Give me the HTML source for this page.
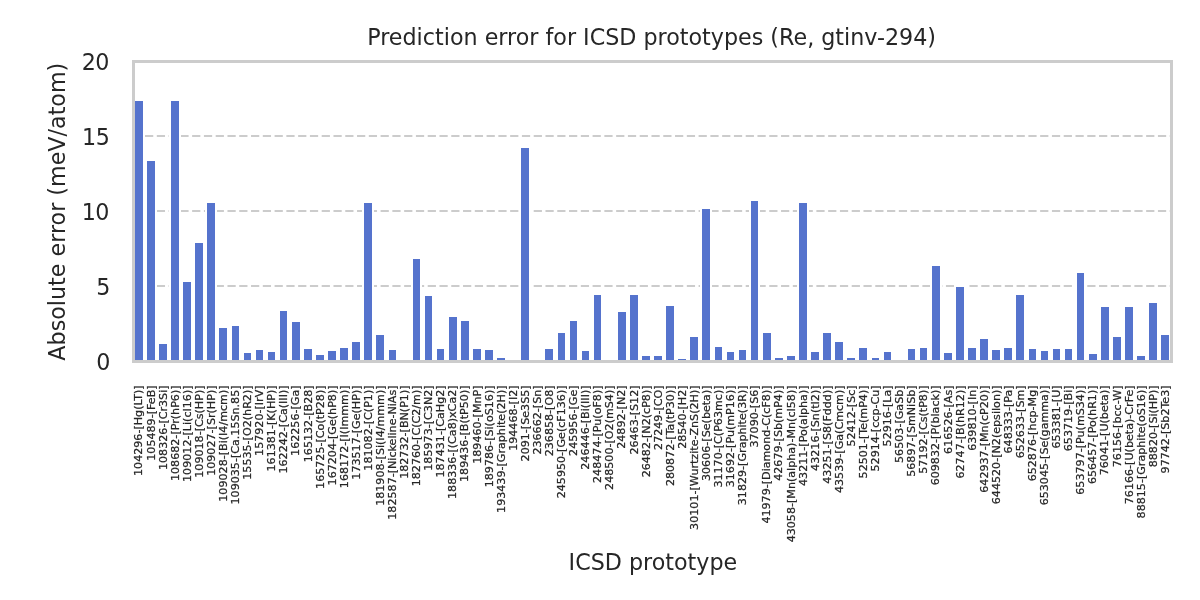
<!DOCTYPE html>
<html><head><meta charset="utf-8"><title>Prediction error for ICSD prototypes</title>
<style>
html,body{margin:0;padding:0;background:#fff;}
body{width:1200px;height:600px;overflow:hidden;}
svg{display:block;}
text{font-family:"DejaVu Sans","Liberation Sans",sans-serif;fill:#262626;}
</style></head><body>
<svg width="1200" height="600" viewBox="0 0 1200 600">
<rect x="0" y="0" width="1200" height="600" fill="#ffffff"/>

<g stroke="#cccccc" stroke-width="2" stroke-dasharray="8.222 3.556" fill="none">
<line x1="133.25" y1="286.0" x2="1171.5" y2="286.0"/>
<line x1="133.25" y1="211.0" x2="1171.5" y2="211.0"/>
<line x1="133.25" y1="136.0" x2="1171.5" y2="136.0"/>
</g>
<g fill="#ffffff" shape-rendering="crispEdges">
<rect x="133" y="99" width="12" height="262.5"/>
<rect x="145" y="159" width="12" height="202.5"/>
<rect x="157" y="342" width="12" height="19.5"/>
<rect x="169" y="99" width="12" height="262.5"/>
<rect x="181" y="280" width="12" height="81.5"/>
<rect x="193" y="241" width="12" height="120.5"/>
<rect x="205" y="201" width="12" height="160.5"/>
<rect x="217" y="326" width="12" height="35.5"/>
<rect x="230" y="324" width="11" height="37.5"/>
<rect x="242" y="351" width="11" height="10.5"/>
<rect x="254" y="348" width="11" height="13.5"/>
<rect x="266" y="350" width="11" height="11.5"/>
<rect x="278" y="309" width="11" height="52.5"/>
<rect x="290" y="320" width="12" height="41.5"/>
<rect x="302" y="347" width="12" height="14.5"/>
<rect x="314" y="353" width="12" height="8.5"/>
<rect x="326" y="349" width="12" height="12.5"/>
<rect x="338" y="346" width="12" height="15.5"/>
<rect x="350" y="340" width="12" height="21.5"/>
<rect x="362" y="201" width="12" height="160.5"/>
<rect x="374" y="333" width="12" height="28.5"/>
<rect x="387" y="348" width="11" height="13.5"/>
<rect x="411" y="257" width="11" height="104.5"/>
<rect x="423" y="294" width="11" height="67.5"/>
<rect x="435" y="347" width="11" height="14.5"/>
<rect x="447" y="315" width="12" height="46.5"/>
<rect x="459" y="319" width="12" height="42.5"/>
<rect x="471" y="347" width="12" height="14.5"/>
<rect x="483" y="348" width="12" height="13.5"/>
<rect x="495" y="356" width="12" height="5.5"/>
<rect x="519" y="146" width="12" height="215.5"/>
<rect x="543" y="347" width="12" height="14.5"/>
<rect x="556" y="331" width="11" height="30.5"/>
<rect x="568" y="319" width="11" height="42.5"/>
<rect x="580" y="349" width="11" height="12.5"/>
<rect x="592" y="293" width="11" height="68.5"/>
<rect x="616" y="310" width="12" height="51.5"/>
<rect x="628" y="293" width="12" height="68.5"/>
<rect x="640" y="354" width="12" height="7.5"/>
<rect x="652" y="354" width="12" height="7.5"/>
<rect x="664" y="304" width="12" height="57.5"/>
<rect x="676" y="357" width="12" height="4.5"/>
<rect x="688" y="335" width="12" height="26.5"/>
<rect x="700" y="207" width="12" height="154.5"/>
<rect x="713" y="345" width="11" height="16.5"/>
<rect x="725" y="350" width="11" height="11.5"/>
<rect x="737" y="348" width="11" height="13.5"/>
<rect x="749" y="199" width="11" height="162.5"/>
<rect x="761" y="331" width="12" height="30.5"/>
<rect x="773" y="356" width="12" height="5.5"/>
<rect x="785" y="354" width="12" height="7.5"/>
<rect x="797" y="201" width="12" height="160.5"/>
<rect x="809" y="350" width="12" height="11.5"/>
<rect x="821" y="331" width="12" height="30.5"/>
<rect x="833" y="340" width="12" height="21.5"/>
<rect x="845" y="356" width="12" height="5.5"/>
<rect x="857" y="346" width="12" height="15.5"/>
<rect x="870" y="356" width="11" height="5.5"/>
<rect x="882" y="350" width="11" height="11.5"/>
<rect x="906" y="347" width="11" height="14.5"/>
<rect x="918" y="346" width="11" height="15.5"/>
<rect x="930" y="264" width="12" height="97.5"/>
<rect x="942" y="351" width="12" height="10.5"/>
<rect x="954" y="285" width="12" height="76.5"/>
<rect x="966" y="346" width="12" height="15.5"/>
<rect x="978" y="337" width="12" height="24.5"/>
<rect x="990" y="348" width="12" height="13.5"/>
<rect x="1002" y="346" width="12" height="15.5"/>
<rect x="1014" y="293" width="12" height="68.5"/>
<rect x="1027" y="347" width="11" height="14.5"/>
<rect x="1039" y="349" width="11" height="12.5"/>
<rect x="1051" y="347" width="11" height="14.5"/>
<rect x="1063" y="347" width="11" height="14.5"/>
<rect x="1075" y="271" width="11" height="90.5"/>
<rect x="1087" y="352" width="12" height="9.5"/>
<rect x="1099" y="305" width="12" height="56.5"/>
<rect x="1111" y="335" width="12" height="26.5"/>
<rect x="1123" y="305" width="12" height="56.5"/>
<rect x="1135" y="354" width="12" height="7.5"/>
<rect x="1147" y="301" width="12" height="60.5"/>
<rect x="1159" y="333" width="12" height="28.5"/>
</g><g fill="#5573cd" shape-rendering="crispEdges">
<rect x="135" y="101" width="8" height="260.5"/>
<rect x="147" y="161" width="8" height="200.5"/>
<rect x="159" y="344" width="8" height="17.5"/>
<rect x="171" y="101" width="8" height="260.5"/>
<rect x="183" y="282" width="8" height="79.5"/>
<rect x="195" y="243" width="8" height="118.5"/>
<rect x="207" y="203" width="8" height="158.5"/>
<rect x="219" y="328" width="8" height="33.5"/>
<rect x="232" y="326" width="7" height="35.5"/>
<rect x="244" y="353" width="7" height="8.5"/>
<rect x="256" y="350" width="7" height="11.5"/>
<rect x="268" y="352" width="7" height="9.5"/>
<rect x="280" y="311" width="7" height="50.5"/>
<rect x="292" y="322" width="8" height="39.5"/>
<rect x="304" y="349" width="8" height="12.5"/>
<rect x="316" y="355" width="8" height="6.5"/>
<rect x="328" y="351" width="8" height="10.5"/>
<rect x="340" y="348" width="8" height="13.5"/>
<rect x="352" y="342" width="8" height="19.5"/>
<rect x="364" y="203" width="8" height="158.5"/>
<rect x="376" y="335" width="8" height="26.5"/>
<rect x="389" y="350" width="7" height="11.5"/>
<rect x="413" y="259" width="7" height="102.5"/>
<rect x="425" y="296" width="7" height="65.5"/>
<rect x="437" y="349" width="7" height="12.5"/>
<rect x="449" y="317" width="8" height="44.5"/>
<rect x="461" y="321" width="8" height="40.5"/>
<rect x="473" y="349" width="8" height="12.5"/>
<rect x="485" y="350" width="8" height="11.5"/>
<rect x="497" y="358" width="8" height="3.5"/>
<rect x="521" y="148" width="8" height="213.5"/>
<rect x="545" y="349" width="8" height="12.5"/>
<rect x="558" y="333" width="7" height="28.5"/>
<rect x="570" y="321" width="7" height="40.5"/>
<rect x="582" y="351" width="7" height="10.5"/>
<rect x="594" y="295" width="7" height="66.5"/>
<rect x="618" y="312" width="8" height="49.5"/>
<rect x="630" y="295" width="8" height="66.5"/>
<rect x="642" y="356" width="8" height="5.5"/>
<rect x="654" y="356" width="8" height="5.5"/>
<rect x="666" y="306" width="8" height="55.5"/>
<rect x="678" y="359" width="8" height="2.5"/>
<rect x="690" y="337" width="8" height="24.5"/>
<rect x="702" y="209" width="8" height="152.5"/>
<rect x="715" y="347" width="7" height="14.5"/>
<rect x="727" y="352" width="7" height="9.5"/>
<rect x="739" y="350" width="7" height="11.5"/>
<rect x="751" y="201" width="7" height="160.5"/>
<rect x="763" y="333" width="8" height="28.5"/>
<rect x="775" y="358" width="8" height="3.5"/>
<rect x="787" y="356" width="8" height="5.5"/>
<rect x="799" y="203" width="8" height="158.5"/>
<rect x="811" y="352" width="8" height="9.5"/>
<rect x="823" y="333" width="8" height="28.5"/>
<rect x="835" y="342" width="8" height="19.5"/>
<rect x="847" y="358" width="8" height="3.5"/>
<rect x="859" y="348" width="8" height="13.5"/>
<rect x="872" y="358" width="7" height="3.5"/>
<rect x="884" y="352" width="7" height="9.5"/>
<rect x="908" y="349" width="7" height="12.5"/>
<rect x="920" y="348" width="7" height="13.5"/>
<rect x="932" y="266" width="8" height="95.5"/>
<rect x="944" y="353" width="8" height="8.5"/>
<rect x="956" y="287" width="8" height="74.5"/>
<rect x="968" y="348" width="8" height="13.5"/>
<rect x="980" y="339" width="8" height="22.5"/>
<rect x="992" y="350" width="8" height="11.5"/>
<rect x="1004" y="348" width="8" height="13.5"/>
<rect x="1016" y="295" width="8" height="66.5"/>
<rect x="1029" y="349" width="7" height="12.5"/>
<rect x="1041" y="351" width="7" height="10.5"/>
<rect x="1053" y="349" width="7" height="12.5"/>
<rect x="1065" y="349" width="7" height="12.5"/>
<rect x="1077" y="273" width="7" height="88.5"/>
<rect x="1089" y="354" width="8" height="7.5"/>
<rect x="1101" y="307" width="8" height="54.5"/>
<rect x="1113" y="337" width="8" height="24.5"/>
<rect x="1125" y="307" width="8" height="54.5"/>
<rect x="1137" y="356" width="8" height="5.5"/>
<rect x="1149" y="303" width="8" height="58.5"/>
<rect x="1161" y="335" width="8" height="26.5"/>
</g>
<rect x="133.5" y="61.5" width="1038.0" height="300.0" fill="none" stroke="#cccccc" stroke-width="3" shape-rendering="crispEdges"/>
<text x="651.6" y="44.5" font-size="22.22" text-anchor="middle">Prediction error for ICSD prototypes (Re, gtinv-294)</text>
<text x="110.4" y="370.0" font-size="22.22" text-anchor="end">0</text>
<text x="110.4" y="295.0" font-size="22.22" text-anchor="end">5</text>
<text x="109.5" y="220.0" font-size="22.22" text-anchor="end">1<tspan dx="-0.6">0</tspan></text>
<text x="109.8" y="145.0" font-size="22.22" text-anchor="end">1<tspan dx="-0.6">5</tspan></text>
<text x="109.5" y="70.0" font-size="22.22" text-anchor="end">2<tspan dx="-0.6">0</tspan></text>
<text transform="translate(65,211.7) rotate(-90)" font-size="22.22" text-anchor="middle">Absolute error (meV/atom)</text>
<text x="652.9" y="570" font-size="22.22" text-anchor="middle">ICSD prototype</text>
<g font-size="11.11" text-anchor="end" stroke="#262626" stroke-width="0.25">
<text transform="translate(142.45,385.4) rotate(-90)">104296-[Hg(LT)]</text>
<text transform="translate(154.52,385.4) rotate(-90)">105489-[FeB]</text>
<text transform="translate(166.60,385.4) rotate(-90)">108326-[Cr3Si]</text>
<text transform="translate(178.67,385.4) rotate(-90)">108682-[Pr(hP6)]</text>
<text transform="translate(190.75,385.4) rotate(-90)">109012-[Li(cI16)]</text>
<text transform="translate(202.83,385.4) rotate(-90)">109018-[Cs(HP)]</text>
<text transform="translate(214.90,385.4) rotate(-90)">109027-[Sr(HP)]</text>
<text transform="translate(226.98,385.4) rotate(-90)">109028-[Bi(I4/mcm)]</text>
<text transform="translate(239.05,385.4) rotate(-90)">109035-[Ca.15Sn.85]</text>
<text transform="translate(251.13,385.4) rotate(-90)">15535-[O2(hR2)]</text>
<text transform="translate(263.20,385.4) rotate(-90)">157920-[IrV]</text>
<text transform="translate(275.28,385.4) rotate(-90)">161381-[K(HP)]</text>
<text transform="translate(287.35,385.4) rotate(-90)">162242-[Ca(III)]</text>
<text transform="translate(299.43,385.4) rotate(-90)">162256-[Ga]</text>
<text transform="translate(311.50,385.4) rotate(-90)">165132-[B28]</text>
<text transform="translate(323.58,385.4) rotate(-90)">165725-[Co(tP28)]</text>
<text transform="translate(335.66,385.4) rotate(-90)">167204-[Ge(hP8)]</text>
<text transform="translate(347.73,385.4) rotate(-90)">168172-[I(Immm)]</text>
<text transform="translate(359.81,385.4) rotate(-90)">173517-[Ge(HP)]</text>
<text transform="translate(371.88,385.4) rotate(-90)">181082-[C(P1)]</text>
<text transform="translate(383.96,385.4) rotate(-90)">181908-[Si(I4/mmm)]</text>
<text transform="translate(396.03,385.4) rotate(-90)">182587-[Nickeline-NiAs]</text>
<text transform="translate(408.11,385.4) rotate(-90)">182732-[BN(P1)]</text>
<text transform="translate(420.18,385.4) rotate(-90)">182760-[C(C2/m)]</text>
<text transform="translate(432.26,385.4) rotate(-90)">185973-[C3N2]</text>
<text transform="translate(444.34,385.4) rotate(-90)">187431-[CaHg2]</text>
<text transform="translate(456.41,385.4) rotate(-90)">188336-[(Ca8)xCa2]</text>
<text transform="translate(468.49,385.4) rotate(-90)">189436-[B(tP50)]</text>
<text transform="translate(480.56,385.4) rotate(-90)">189460-[MnP]</text>
<text transform="translate(492.64,385.4) rotate(-90)">189786-[Si(oS16)]</text>
<text transform="translate(504.71,385.4) rotate(-90)">193439-[Graphite(2H)]</text>
<text transform="translate(516.79,385.4) rotate(-90)">194468-[I2]</text>
<text transform="translate(528.86,385.4) rotate(-90)">2091-[Se3S5]</text>
<text transform="translate(540.94,385.4) rotate(-90)">236662-[Sn]</text>
<text transform="translate(553.01,385.4) rotate(-90)">236858-[O8]</text>
<text transform="translate(565.09,385.4) rotate(-90)">245950-[Ge(cF136)]</text>
<text transform="translate(577.17,385.4) rotate(-90)">245956-[Ge]</text>
<text transform="translate(589.24,385.4) rotate(-90)">246446-[Bi(III)]</text>
<text transform="translate(601.32,385.4) rotate(-90)">248474-[Pu(oF8)]</text>
<text transform="translate(613.39,385.4) rotate(-90)">248500-[O2(mS4)]</text>
<text transform="translate(625.47,385.4) rotate(-90)">24892-[N2]</text>
<text transform="translate(637.54,385.4) rotate(-90)">26463-[S12]</text>
<text transform="translate(649.62,385.4) rotate(-90)">26482-[N2(cP8)]</text>
<text transform="translate(661.69,385.4) rotate(-90)">27249-[CO]</text>
<text transform="translate(673.77,385.4) rotate(-90)">280872-[Ta(tP30)]</text>
<text transform="translate(685.85,385.4) rotate(-90)">28540-[H2]</text>
<text transform="translate(697.92,385.4) rotate(-90)">30101-[Wurtzite-ZnS(2H)]</text>
<text transform="translate(710.00,385.4) rotate(-90)">30606-[Se(beta)]</text>
<text transform="translate(722.07,385.4) rotate(-90)">31170-[C(P63mc)]</text>
<text transform="translate(734.15,385.4) rotate(-90)">31692-[Pu(mP16)]</text>
<text transform="translate(746.22,385.4) rotate(-90)">31829-[Graphite(3R)]</text>
<text transform="translate(758.30,385.4) rotate(-90)">37090-[S6]</text>
<text transform="translate(770.37,385.4) rotate(-90)">41979-[Diamond-C(cF8)]</text>
<text transform="translate(782.45,385.4) rotate(-90)">42679-[Sb(mP4)]</text>
<text transform="translate(794.52,385.4) rotate(-90)">43058-[Mn(alpha)-Mn(cI58)]</text>
<text transform="translate(806.60,385.4) rotate(-90)">43211-[Po(alpha)]</text>
<text transform="translate(818.68,385.4) rotate(-90)">43216-[Sn(tI2)]</text>
<text transform="translate(830.75,385.4) rotate(-90)">43251-[S8(Fddd)]</text>
<text transform="translate(842.83,385.4) rotate(-90)">43539-[Ga(Cmcm)]</text>
<text transform="translate(854.90,385.4) rotate(-90)">52412-[Sc]</text>
<text transform="translate(866.98,385.4) rotate(-90)">52501-[Te(mP4)]</text>
<text transform="translate(879.05,385.4) rotate(-90)">52914-[ccp-Cu]</text>
<text transform="translate(891.13,385.4) rotate(-90)">52916-[La]</text>
<text transform="translate(903.20,385.4) rotate(-90)">56503-[GaSb]</text>
<text transform="translate(915.28,385.4) rotate(-90)">56897-[SmNiSb]</text>
<text transform="translate(927.36,385.4) rotate(-90)">57192-[Cs(tP8)]</text>
<text transform="translate(939.43,385.4) rotate(-90)">609832-[P(black)]</text>
<text transform="translate(951.51,385.4) rotate(-90)">616526-[As]</text>
<text transform="translate(963.58,385.4) rotate(-90)">62747-[B(hR12)]</text>
<text transform="translate(975.66,385.4) rotate(-90)">639810-[In]</text>
<text transform="translate(987.73,385.4) rotate(-90)">642937-[Mn(cP20)]</text>
<text transform="translate(999.81,385.4) rotate(-90)">644520-[N2(epsilon)]</text>
<text transform="translate(1011.88,385.4) rotate(-90)">648333-[Pa]</text>
<text transform="translate(1023.96,385.4) rotate(-90)">652633-[Sm]</text>
<text transform="translate(1036.03,385.4) rotate(-90)">652876-[hcp-Mg]</text>
<text transform="translate(1048.11,385.4) rotate(-90)">653045-[Se(gamma)]</text>
<text transform="translate(1060.19,385.4) rotate(-90)">653381-[U]</text>
<text transform="translate(1072.26,385.4) rotate(-90)">653719-[Bi]</text>
<text transform="translate(1084.34,385.4) rotate(-90)">653797-[Pu(mS34)]</text>
<text transform="translate(1096.41,385.4) rotate(-90)">656457-[Po(hR1)]</text>
<text transform="translate(1108.49,385.4) rotate(-90)">76041-[U(beta)]</text>
<text transform="translate(1120.56,385.4) rotate(-90)">76156-[bcc-W]</text>
<text transform="translate(1132.64,385.4) rotate(-90)">76166-[U(beta)-CrFe]</text>
<text transform="translate(1144.71,385.4) rotate(-90)">88815-[Graphite(oS16)]</text>
<text transform="translate(1156.79,385.4) rotate(-90)">88820-[Si(HP)]</text>
<text transform="translate(1168.87,385.4) rotate(-90)">97742-[Sb2Te3]</text>
</g>
</svg></body></html>
